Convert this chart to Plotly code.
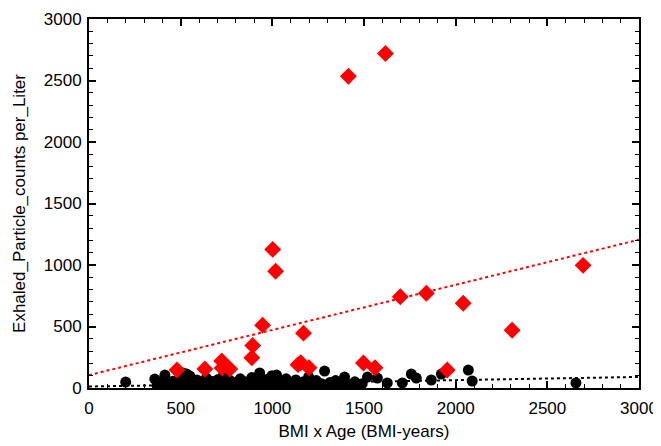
import plotly.graph_objects as go
import numpy as np

# Red group (high emitters)
red_x = [480, 632, 724, 726, 768, 888, 893, 947, 1002, 1018, 1140, 1155, 1170, 1200,
         1415, 1497, 1560, 1617, 1698, 1840, 1954, 2041, 2308, 2695]
red_y = [146, 154, 219, 162, 154, 245, 345, 511, 1127, 949, 190, 205, 446, 165,
         2535, 203, 165, 2720, 742, 770, 146, 689, 470, 997]

# Black group (low emitters)
black_x = [200, 359, 372, 380, 395, 405, 414, 420, 432, 445, 458, 470, 485, 498, 512,
           525, 533, 545, 550, 560, 575, 588, 600, 612, 625, 640, 652, 668, 680, 695,
           705, 718, 730, 745, 758, 770, 785, 798, 810, 825, 838, 850, 862, 875, 888,
           900, 912, 925, 931, 945, 958, 970, 985, 998, 1010, 1023, 1035, 1048, 1060,
           1075, 1088, 1100, 1115, 1128, 1140, 1155, 1170, 1185, 1198, 1212, 1225, 1240,
           1255, 1268, 1285, 1300, 1315, 1330, 1345, 1360, 1375, 1394, 1410, 1430, 1450,
           1470, 1490, 1519, 1573, 1627, 1709, 1758, 1785, 1867, 1922, 2069, 2090, 2656]
black_y = [48, 73, 20, 45, 10, 60, 105, 25, 40, 15, 55, 30, 8, 70, 122,
           35, 113, 20, 97, 50, 12, 65, 30, 45, 10, 80, 25, 55, 15, 40,
           70, 20, 95, 35, 10, 60, 25, 45, 15, 75, 30, 50, 10, 40, 85,
           20, 60, 30, 122, 15, 45, 70, 25, 100, 40, 105, 10, 55, 30,
           75, 20, 45, 12, 65, 35, 8, 50, 25, 90, 15, 40, 60,
           20, 35, 138, 10, 45, 25, 60, 15, 40, 89, 30, 20, 50,
           12, 35, 89, 81, 41, 41, 113, 81, 65, 113, 146, 57, 41]

# Linear trend lines: [intercept, slope]
red_fit = [105, 0.367]
black_fit = [12, 0.026]

x_range = [0, 3000]
y_range = [0, 3000]

fx = np.array(x_range, dtype=float)
FONT = dict(family="Liberation Sans, Arial", size=17, color="black")

fig = go.Figure()
fig.add_trace(go.Scatter(x=fx, y=red_fit[0] + red_fit[1] * fx, mode="lines",
                         line=dict(color="red", width=2, dash="dot"), showlegend=False))
fig.add_trace(go.Scatter(x=fx, y=black_fit[0] + black_fit[1] * fx, mode="lines",
                         line=dict(color="black", width=2, dash="dot"), showlegend=False))
fig.add_trace(go.Scatter(x=black_x, y=black_y, mode="markers",
                         marker=dict(symbol="circle", size=11, color="black"),
                         showlegend=False))
fig.add_trace(go.Scatter(x=red_x, y=red_y, mode="markers",
                         marker=dict(symbol="diamond", size=13, color="red"),
                         showlegend=False))

axis_common = dict(
    showgrid=False, zeroline=False, showline=True, linecolor="black", linewidth=2,
    mirror="allticks", ticks="inside", ticklen=7, tickwidth=2, tickcolor="black",
    tickfont=FONT, automargin=False,
    minor=dict(ticks="inside", ticklen=4, tickwidth=1, tickcolor="black", dtick=100),
)

fig.update_xaxes(range=x_range, dtick=500, tick0=0, ticklabelstandoff=4,
                 title=dict(text="BMI x Age (BMI-years)", standoff=8, font=FONT),
                 **axis_common)
fig.update_yaxes(range=y_range, dtick=500, tick0=0, ticklabelstandoff=2,
                 title=dict(text="Exhaled_Particle_counts per_Liter", standoff=14, font=FONT),
                 **axis_common)

# page body has an 8px offset, so the figure is sized to the remaining window
fig.update_layout(
    width=653, height=438,
    margin=dict(l=81, r=22, t=11, b=58),
    plot_bgcolor="white", paper_bgcolor="white",
)

fig.write_html("out.html")
